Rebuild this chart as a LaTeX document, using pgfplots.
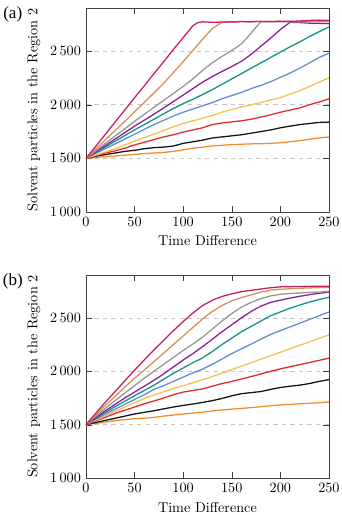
\documentclass[border=0pt]{standalone}
\usepackage{fontspec}
\usepackage{pgfplots}
\usepackage{pgfplotstable}
\pgfplotsset{compat=1.18}
\newfontfamily\timesfont{Liberation Serif}

\definecolor{cA}{RGB}{200,30,95}
\definecolor{cB}{RGB}{210,145,90}
\definecolor{cC}{RGB}{150,150,150}
\definecolor{cD}{RGB}{140,30,150}
\definecolor{cE}{RGB}{20,145,130}
\definecolor{cF}{RGB}{100,140,210}
\definecolor{cG}{RGB}{240,195,80}
\definecolor{cH}{RGB}{230,40,40}
\definecolor{cI}{RGB}{20,20,20}
\definecolor{cJ}{RGB}{245,140,40}

% panel (a)
\pgfplotstableread{
t   a    b    c    d    e    f    g    h    i    j
0   1500 1500 1500 1500 1500 1500 1500 1500 1500 1500
10  1610 1585 1570 1560 1553 1545 1530 1525 1520 1508
20  1725 1672 1640 1620 1606 1590 1560 1550 1535 1515
30  1838 1760 1708 1680 1660 1635 1590 1570 1550 1522
40  1950 1845 1775 1740 1712 1680 1625 1595 1565 1530
50  2065 1935 1845 1800 1765 1725 1660 1625 1575 1537
60  2175 2020 1910 1855 1815 1770 1695 1650 1590 1545
70  2290 2110 1975 1912 1865 1815 1725 1675 1600 1550
80  2400 2200 2040 1970 1915 1855 1760 1700 1605 1555
90  2515 2300 2105 2030 1965 1895 1795 1720 1615 1565
100 2625 2400 2170 2090 2010 1930 1825 1745 1640 1580
110 2735 2505 2240 2150 2050 1960 1850 1765 1655 1595
115 2765 2557 2280 2180 2072 1975 1862 1775 1662 1600
120 2772 2610 2320 2210 2095 1990 1875 1785 1670 1605
130 2768 2710 2390 2262 2140 2020 1900 1815 1690 1615
140 2770 2768 2450 2310 2190 2055 1930 1830 1700 1622
150 2772 2772 2505 2355 2240 2085 1955 1840 1710 1628
155 2770 2774 2535 2380 2265 2100 1968 1845 1715 1630
160 2775 2775 2568 2405 2290 2115 1980 1850 1720 1632
165 2772 2773 2615 2435 2315 2132 1990 1857 1727 1634
170 2773 2772 2668 2470 2340 2150 2000 1865 1735 1635
175 2775 2774 2722 2507 2365 2165 2010 1875 1742 1636
180 2776 2775 2772 2545 2390 2180 2020 1885 1750 1637
190 2774 2773 2775 2620 2440 2215 2045 1905 1765 1640
200 2778 2775 2772 2700 2490 2255 2065 1930 1785 1645
210 2776 2772 2776 2768 2540 2295 2100 1950 1800 1655
220 2780 2775 2772 2765 2585 2340 2130 1970 1815 1665
230 2785 2774 2776 2760 2635 2390 2170 2000 1825 1678
240 2788 2776 2775 2758 2680 2440 2210 2025 1835 1690
250 2785 2775 2778 2755 2725 2480 2250 2055 1838 1700
}\dataA

% panel (b)
\pgfplotstableread{
t   a    b    c    d    e    f    g    h    i    j
0   1500 1500 1500 1500 1500 1500 1500 1500 1500 1500
10  1605 1590 1578 1565 1558 1550 1542 1535 1520 1512
20  1710 1680 1653 1630 1615 1600 1585 1570 1540 1525
30  1810 1765 1725 1690 1668 1645 1625 1605 1560 1537
40  1910 1850 1795 1750 1720 1690 1665 1635 1580 1547
50  2010 1935 1865 1805 1770 1735 1705 1665 1600 1555
60  2105 2010 1935 1860 1820 1780 1745 1695 1615 1560
70  2200 2090 2000 1915 1870 1830 1778 1722 1630 1568
80  2290 2170 2065 1975 1925 1865 1808 1750 1648 1580
90  2380 2250 2130 2040 1980 1905 1838 1780 1665 1590
100 2465 2330 2195 2105 2030 1945 1865 1805 1680 1600
110 2545 2410 2255 2165 2080 1985 1893 1820 1693 1608
120 2615 2490 2320 2230 2125 2020 1920 1835 1708 1617
130 2665 2560 2395 2300 2185 2065 1950 1860 1725 1628
140 2700 2615 2470 2370 2250 2115 1983 1885 1745 1638
150 2725 2660 2540 2435 2310 2165 2015 1905 1770 1645
160 2745 2690 2600 2500 2370 2210 2048 1928 1790 1652
170 2758 2715 2645 2560 2420 2255 2080 1950 1800 1660
180 2770 2740 2680 2610 2470 2300 2113 1975 1810 1668
190 2782 2760 2705 2645 2520 2345 2145 2000 1830 1678
200 2790 2768 2720 2665 2555 2380 2178 2022 1848 1685
210 2792 2772 2728 2685 2590 2415 2210 2043 1860 1690
220 2794 2777 2733 2702 2620 2450 2243 2062 1870 1695
230 2795 2780 2738 2717 2648 2485 2275 2082 1885 1700
240 2796 2783 2742 2730 2672 2520 2308 2102 1905 1706
250 2796 2785 2746 2740 2693 2555 2340 2123 1922 1712
}\dataB

\pgfplotsset{
  myax/.style={
    scale only axis, width=171.1pt,
    xmin=0, xmax=250, ymin=1000, ymax=2900,
    xtick={0,50,...,250}, ytick={1000,1500,2000,2500},
    /pgf/number format/1000 sep={\,},
    ymajorgrids, grid style={dashed, gray!45},
    xlabel={Time Difference},
    ylabel={Solvent particles in the Region 2},
    axis line style={black!75}, tick style={black!75},
    every axis plot/.append style={line width=0.9pt, no marks},
  },
}

\begin{document}
\begin{tikzpicture}
\useasboundingbox (0,0) rectangle (240.1pt,362.6pt);
\begin{axis}[myax, height=143.6pt, at={(60.5pt,213.3pt)}, anchor=south west]
\addplot[cJ] table[x=t,y=j]{\dataA};
\addplot[cI] table[x=t,y=i]{\dataA};
\addplot[cH] table[x=t,y=h]{\dataA};
\addplot[cG] table[x=t,y=g]{\dataA};
\addplot[cF] table[x=t,y=f]{\dataA};
\addplot[cE] table[x=t,y=e]{\dataA};
\addplot[cD] table[x=t,y=d]{\dataA};
\addplot[cC] table[x=t,y=c]{\dataA};
\addplot[cB] table[x=t,y=b]{\dataA};
\addplot[cA] table[x=t,y=a]{\dataA};
\end{axis}
\begin{axis}[myax, height=142.9pt, at={(60.5pt,26.0pt)}, anchor=south west]
\addplot[cJ] table[x=t,y=j]{\dataB};
\addplot[cI] table[x=t,y=i]{\dataB};
\addplot[cH] table[x=t,y=h]{\dataB};
\addplot[cG] table[x=t,y=g]{\dataB};
\addplot[cF] table[x=t,y=f]{\dataB};
\addplot[cE] table[x=t,y=e]{\dataB};
\addplot[cD] table[x=t,y=d]{\dataB};
\addplot[cC] table[x=t,y=c]{\dataB};
\addplot[cB] table[x=t,y=b]{\dataB};
\addplot[cA] table[x=t,y=a]{\dataB};
\end{axis}
\node[font=\timesfont\large] at (9pt,352.7pt) {(a)};
\node[font=\timesfont\large] at (9pt,164.7pt) {(b)};
\end{tikzpicture}
\end{document}
